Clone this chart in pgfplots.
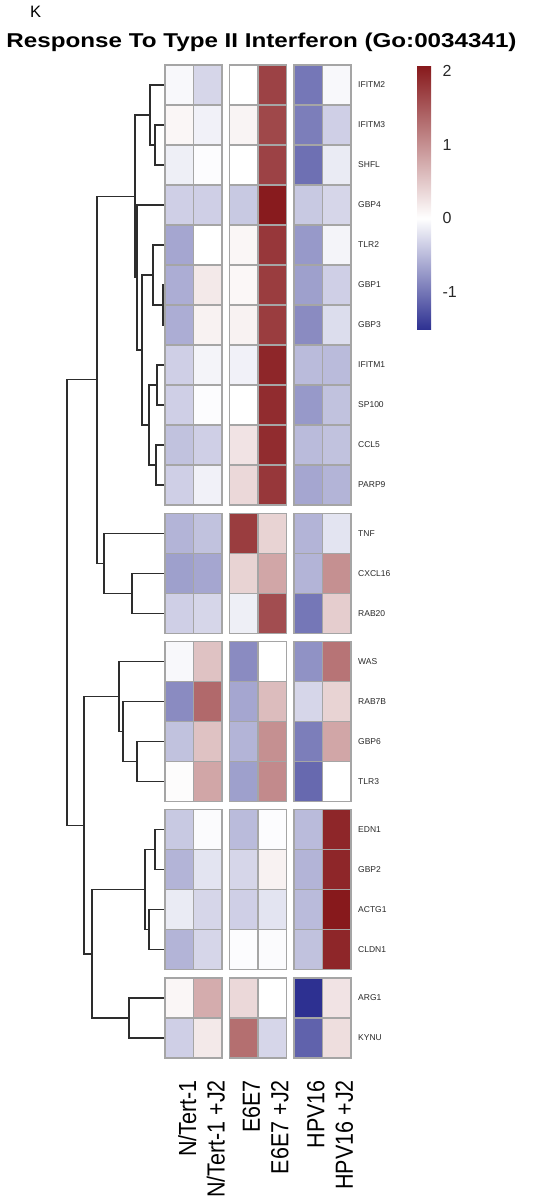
\documentclass[border=0pt]{standalone}
\usepackage{pgfplots}
\pgfplotsset{compat=1.18}
\usepackage{pgfplotstable}
\usepackage{fontspec}
\setmainfont{Liberation Sans}
\usepackage{graphicx}

\definecolor{cellgray}{RGB}{165,165,165}
\definecolor{dendro}{RGB}{45,45,45}
\definecolor{lbl}{RGB}{40,40,40}

\pgfdeclareplotmark{hmcell}{%
  \pgfpathrectangle{\pgfpoint{-14.25pt}{-20pt}}{\pgfpoint{28.5pt}{40pt}}%
  \pgfusepathqfillstroke}

% r = row index, g = row group; c1..c6 = N/Tert-1, N/Tert-1 +J2, E6E7, E6E7 +J2, HPV16, HPV16 +J2
\pgfplotstableread{
r  g  c1     c2     c3     c4     c5     c6
0  0  -0.05  -0.30  0.00   1.70   -1.00  -0.05
1  0  0.08   -0.10  0.10   1.65   -0.95  -0.35
2  0  -0.12  -0.02  0.00   1.70   -1.05  -0.15
3  0  -0.35  -0.35  -0.40  2.05   -0.40  -0.30
4  0  -0.65  0.00   0.08   1.80   -0.75  -0.08
5  0  -0.60  0.20   0.07   1.75   -0.70  -0.35
6  0  -0.60  0.12   0.12   1.75   -0.85  -0.25
7  0  -0.35  -0.08  -0.10  1.95   -0.50  -0.50
8  0  -0.35  -0.02  0.00   1.90   -0.75  -0.45
9  0  -0.45  -0.35  0.25   1.90   -0.50  -0.45
10 0  -0.35  -0.10  0.35   1.80   -0.65  -0.55
11 1  -0.55  -0.45  1.75   0.40   -0.55  -0.20
12 1  -0.70  -0.65  0.40   0.80   -0.55  1.00
13 1  -0.35  -0.30  -0.12  1.60   -1.00  0.45
14 2  -0.05  0.55   -0.85  0.00   -0.80  1.25
15 2  -0.85  1.35   -0.65  0.60   -0.30  0.40
16 2  -0.45  0.55   -0.55  1.00   -0.95  0.80
17 2  0.03   0.80   -0.70  1.05   -1.10  0.00
18 3  -0.40  -0.03  -0.50  -0.02  -0.50  1.95
19 3  -0.55  -0.20  -0.30  0.12   -0.55  1.95
20 3  -0.15  -0.30  -0.35  -0.20  -0.50  2.07
21 3  -0.55  -0.30  -0.02  -0.03  -0.45  1.95
22 4  0.08   0.75   0.35   0.00   -1.52  0.25
23 4  -0.35  0.20   1.30   -0.30  -1.15  0.30
}\hm

\pgfplotsset{
  hmcells/.style={scatter, only marks, mark=hmcell, point meta=explicit,
    scatter/use mapped color={draw=cellgray, fill=mapped color}, line width=1.2pt},
  dend/.style={dendro, line width=1.3pt, no marks},
}

\begin{document}
\begin{tikzpicture}
\useasboundingbox (0,0) rectangle (536pt,1200pt);
\begin{axis}[
  at={(0pt,0pt)}, anchor=south west,
  width=536pt, height=1200pt, scale only axis,
  xmin=0, xmax=536, ymin=0, ymax=1200, y dir=reverse,
  hide axis, clip=false,
  colormap={hm}{rgb255(0)=(45,48,145) rgb255(152)=(255,255,255) rgb255(359)=(135,25,28)},
  point meta min=-1.52, point meta max=2.07,
  colorbar,
  colorbar style={
    at={(0.778,0.945)}, anchor=north west,
    width=19pt, height=264pt, y dir=normal,
    ytick={-1,0,1,2}, yticklabels={-1,0,1,2},
    yticklabel style={font=\fontsize{16}{18}\selectfont, text=lbl, xshift=3pt},
    axis line style={draw=none}, major tick length=0pt,
  },
]
% heatmap cells
\addplot[hmcells] table[x expr=179.25, y expr={85+40*\thisrow{r}+8.25*\thisrow{g}}, meta=c1]{\hm};
\addplot[hmcells] table[x expr=207.75, y expr={85+40*\thisrow{r}+8.25*\thisrow{g}}, meta=c2]{\hm};
\addplot[hmcells] table[x expr=243.75, y expr={85+40*\thisrow{r}+8.25*\thisrow{g}}, meta=c3]{\hm};
\addplot[hmcells] table[x expr=272.25, y expr={85+40*\thisrow{r}+8.25*\thisrow{g}}, meta=c4]{\hm};
\addplot[hmcells] table[x expr=308.25, y expr={85+40*\thisrow{r}+8.25*\thisrow{g}}, meta=c5]{\hm};
\addplot[hmcells] table[x expr=336.75, y expr={85+40*\thisrow{r}+8.25*\thisrow{g}}, meta=c6]{\hm};

% dendrogram
\addplot[dend] coordinates {(166,125)(155,125)(155,165)(166,165)};
\addplot[dend] coordinates {(166,85)(150,85)(150,145)(155,145)};
\addplot[dend] coordinates {(166,285)(163,285)(163,325)(166,325)};
\addplot[dend] coordinates {(166,245)(153,245)(153,305)(163,305)};
\addplot[dend] coordinates {(166,365)(157,365)(157,405)(166,405)};
\addplot[dend] coordinates {(166,445)(156,445)(156,485)(166,485)};
\addplot[dend] coordinates {(157,385)(149,385)(149,465)(156,465)};
\addplot[dend] coordinates {(153,275)(142,275)(142,425)(149,425)};
\addplot[dend] coordinates {(166,205)(137,205)(137,350)(142,350)};
\addplot[dend] coordinates {(150,115)(135,115)(135,277.5)(137,277.5)};
\addplot[dend] coordinates {(166,573.25)(132,573.25)(132,613.25)(166,613.25)};
\addplot[dend] coordinates {(166,533.25)(104,533.25)(104,593.25)(132,593.25)};
\addplot[dend] coordinates {(135,196.25)(97,196.25)(97,563.25)(104,563.25)};
\addplot[dend] coordinates {(166,741.5)(137,741.5)(137,781.5)(166,781.5)};
\addplot[dend] coordinates {(166,701.5)(123,701.5)(123,761.5)(137,761.5)};
\addplot[dend] coordinates {(166,661.5)(119,661.5)(119,731.5)(123,731.5)};
\addplot[dend] coordinates {(166,829.75)(155,829.75)(155,869.75)(166,869.75)};
\addplot[dend] coordinates {(166,909.75)(149,909.75)(149,949.75)(166,949.75)};
\addplot[dend] coordinates {(155,849.75)(145,849.75)(145,929.75)(149,929.75)};
\addplot[dend] coordinates {(166,998)(129,998)(129,1038)(166,1038)};
\addplot[dend] coordinates {(145,889.75)(92,889.75)(92,1018)(129,1018)};
\addplot[dend] coordinates {(119,696.5)(84,696.5)(84,953.875)(92,953.875)};
\addplot[dend] coordinates {(97,379.75)(67,379.75)(67,825.19)(84,825.19)};

% row labels
\begin{scope}[every node/.style={anchor=west, inner sep=0pt, text=lbl, font=\fontsize{8.5}{10}\selectfont}]
\node at (axis cs:358,85) {IFITM2};
\node at (axis cs:358,125) {IFITM3};
\node at (axis cs:358,165) {SHFL};
\node at (axis cs:358,205) {GBP4};
\node at (axis cs:358,245) {TLR2};
\node at (axis cs:358,285) {GBP1};
\node at (axis cs:358,325) {GBP3};
\node at (axis cs:358,365) {IFITM1};
\node at (axis cs:358,405) {SP100};
\node at (axis cs:358,445) {CCL5};
\node at (axis cs:358,485) {PARP9};
\node at (axis cs:358,533.25) {TNF};
\node at (axis cs:358,573.25) {CXCL16};
\node at (axis cs:358,613.25) {RAB20};
\node at (axis cs:358,661.5) {WAS};
\node at (axis cs:358,701.5) {RAB7B};
\node at (axis cs:358,741.5) {GBP6};
\node at (axis cs:358,781.5) {TLR3};
\node at (axis cs:358,829.75) {EDN1};
\node at (axis cs:358,869.75) {GBP2};
\node at (axis cs:358,909.75) {ACTG1};
\node at (axis cs:358,949.75) {CLDN1};
\node at (axis cs:358,998) {ARG1};
\node at (axis cs:358,1038) {KYNU};
\end{scope}

% column labels
\begin{scope}[every node/.style={rotate=90, anchor=north east, inner sep=0pt, text=black, font=\fontsize{21.5}{24}\selectfont}]
\node at (axis cs:178,1080) {\scalebox{1}[1.15]{N/Tert-1}};
\node at (axis cs:206.5,1080) {\scalebox{1}[1.15]{N/Tert-1 +J2}};
\node at (axis cs:242.5,1080) {\scalebox{1}[1.15]{E6E7}};
\node at (axis cs:271,1080) {\scalebox{1}[1.15]{E6E7 +J2}};
\node at (axis cs:307,1080) {\scalebox{1}[1.15]{HPV16}};
\node at (axis cs:335.5,1080) {\scalebox{1}[1.15]{HPV16 +J2}};
\end{scope}

% title and panel letter
\node[anchor=base, inner sep=0pt, font=\fontsize{20}{24}\selectfont\bfseries] at (axis cs:261.5,47) {\scalebox{1.21}[1]{Response To Type II Interferon (Go:0034341)}};
\node[anchor=base west, inner sep=0pt, font=\fontsize{16.5}{20}\selectfont] at (axis cs:30,17) {K};
\end{axis}
\end{tikzpicture}
\end{document}
